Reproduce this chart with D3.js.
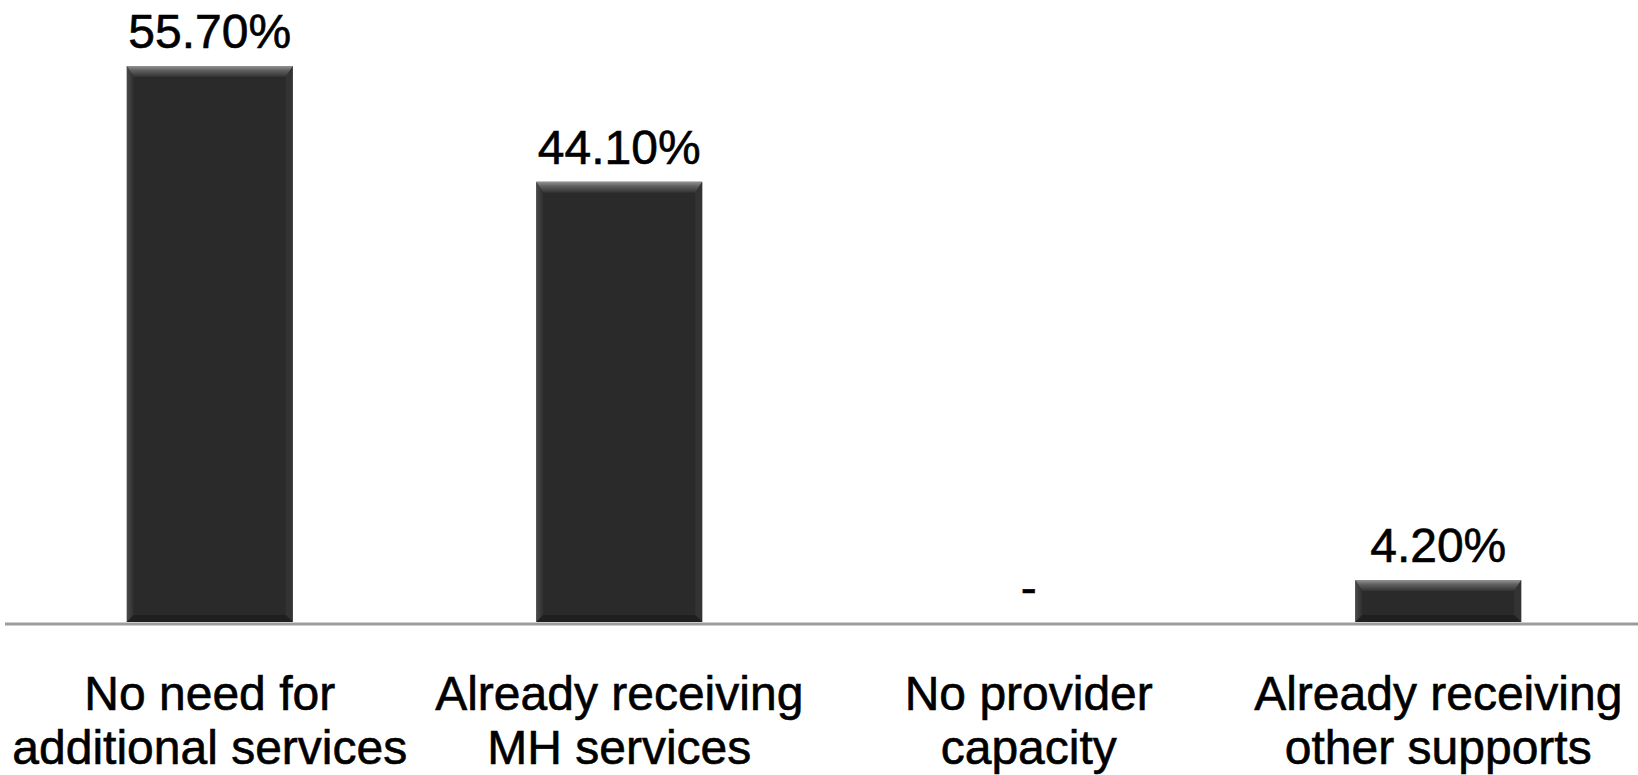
<!DOCTYPE html>
<html>
<head>
<meta charset="utf-8">
<script src="https://cdn.jsdelivr.net/npm/d3@7"></script>
<style>
  html, body { margin: 0; padding: 0; background: #ffffff; }
  svg { display: block; }
</style>
</head>
<body>
<div id="chart"></div>
<script>
// --- data ---
const categories = ["No need", "Already MH", "No provider", "Already other"];
const categoryLines = [
  ["No need for", "additional services"],
  ["Already receiving", "MH services"],
  ["No provider", "capacity"],
  ["Already receiving", "other supports"]
];
const values = [55.7, 44.1, 0, 4.2];

const width = 1638;
const height = 775;
const fontFamily = "'Liberation Sans', Arial, Helvetica, sans-serif";

const svg = d3.select("#chart").append("svg")
  .attr("width", width)
  .attr("height", height);

// scales
const x = d3.scaleBand()
  .domain(categories)
  .range([5, 5 + 409.5 * categories.length])
  .paddingInner(0.595)
  .paddingOuter(0.2975);

const y = d3.scaleLinear()
  .domain([0, 55.7])
  .range([622, 66]);

// gradient for the top bevel
const defs = svg.append("defs");
const topGrad = defs.append("linearGradient")
  .attr("id", "bevel-top")
  .attr("x1", 0).attr("y1", 0).attr("x2", 0).attr("y2", 1);
topGrad.append("stop").attr("offset", "0%").attr("stop-color", "#929292");
topGrad.append("stop").attr("offset", "40%").attr("stop-color", "#606060");
topGrad.append("stop").attr("offset", "100%").attr("stop-color", "#323232");

const sideGrad = defs.append("linearGradient")
  .attr("id", "bevel-side")
  .attr("x1", 0).attr("y1", 0).attr("x2", 1).attr("y2", 0);
sideGrad.append("stop").attr("offset", "0%").attr("stop-color", "#4a4a4a");
sideGrad.append("stop").attr("offset", "100%").attr("stop-color", "#2e2e2e");

// bars
const bt = 11; // top bevel
const bs = 7;  // side bevel
const bars = svg.append("g").attr("class", "bars");

values.forEach((v, i) => {
  if (v <= 0) return;
  const x0 = x(categories[i]);
  const x1 = x0 + x.bandwidth();
  const y0 = y(v);
  const y1 = y(0);
  const g = bars.append("g");

  g.append("rect")
    .attr("x", x0).attr("y", y0)
    .attr("width", x1 - x0).attr("height", y1 - y0)
    .attr("fill", "#2a2a2a");

  const pts = (arr) => arr.map(p => p.join(",")).join(" ");
  // left side
  g.append("polygon")
    .attr("points", pts([[x0, y0], [x0 + bs, y0 + bt], [x0 + bs, y1 - bs], [x0, y1]]))
    .attr("fill", "url(#bevel-side)");
  // right side
  g.append("polygon")
    .attr("points", pts([[x1, y0], [x1 - bs, y0 + bt], [x1 - bs, y1 - bs], [x1, y1]]))
    .attr("fill", "#333333");
  // bottom
  g.append("polygon")
    .attr("points", pts([[x0, y1], [x0 + bs, y1 - bs], [x1 - bs, y1 - bs], [x1, y1]]))
    .attr("fill", "#1f1f1f");
  // top
  g.append("polygon")
    .attr("points", pts([[x0, y0], [x1, y0], [x1 - bs, y0 + bt], [x0 + bs, y0 + bt]]))
    .attr("fill", "url(#bevel-top)");
});

// baseline
svg.append("line")
  .attr("x1", 5).attr("x2", width)
  .attr("y1", y(0) + 2).attr("y2", y(0) + 2)
  .attr("stroke", "#9c9c9c")
  .attr("stroke-width", 3);

// value labels
svg.append("g").selectAll("text")
  .data(values)
  .join("text")
  .attr("x", (d, i) => x(categories[i]) + x.bandwidth() / 2)
  .attr("y", d => y(d) - 18)
  .attr("text-anchor", "middle")
  .style("font-family", fontFamily)
  .style("font-size", "48px")
  .style("fill", "#000000")
  .style("stroke", "#000000")
  .style("stroke-width", "0.6px")
  .text(d => d === 0 ? "-" : d.toFixed(2) + "%");

// category labels
const catG = svg.append("g");
categoryLines.forEach((lines, i) => {
  const t = catG.append("text")
    .attr("x", x(categories[i]) + x.bandwidth() / 2)
    .attr("y", 710)
    .attr("text-anchor", "middle")
    .style("font-family", fontFamily)
    .style("font-size", "48px")
    .style("fill", "#000000")
    .style("stroke", "#000000")
    .style("stroke-width", "0.6px");
  lines.forEach((ln, j) => {
    t.append("tspan")
      .attr("x", x(categories[i]) + x.bandwidth() / 2)
      .attr("dy", j === 0 ? 0 : 54)
      .text(ln);
  });
});
</script>
</body>
</html>
